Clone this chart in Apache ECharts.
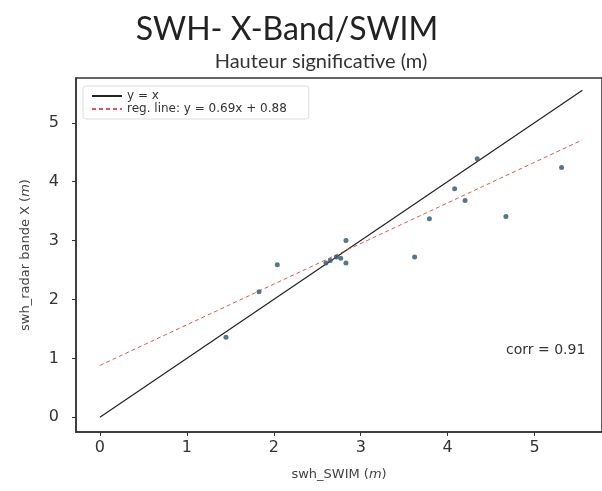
<!DOCTYPE html>
<html><head><meta charset="utf-8">
<script src="https://cdn.jsdelivr.net/npm/echarts@6/dist/echarts.min.js"></script>
<style>html,body{margin:0;padding:0;background:#fff}#c{width:602px;height:491px}</style>
</head><body><div id="c"></div>
<script>
const swimX = [1.45, 1.83, 2.04, 2.60, 2.65, 2.72, 2.77, 2.83, 2.83, 3.62, 3.79, 4.08, 4.20, 4.34, 4.67, 5.31];
const radarY = [1.36, 2.13, 2.59, 2.62, 2.66, 2.72, 2.70, 2.62, 3.00, 2.72, 3.37, 3.88, 3.68, 4.39, 3.41, 4.24];
const lineX = [0, 5.55];
const slope = 0.69, intercept = 0.88;
const xTicks = [0, 1, 2, 3, 4, 5];
const yTicks = [0, 1, 2, 3, 4, 5];

const scatterData = swimX.map((x, i) => [x, radarY[i]]);
const idData = lineX.map(x => [x, x]);
const regData = lineX.map(x => [x, slope * x + intercept]);

const chart = echarts.init(document.getElementById('c'), null, {renderer: 'canvas'});
const axisFont = 'DejaVu Sans, sans-serif';
chart.setOption({
  animation: false,
  backgroundColor: '#fff',
  textStyle: {fontFamily: axisFont},
  title: [
    {text: 'SWH- X-Band/SWIM', left: 282, top: 9, textAlign: 'center',
     textStyle: {fontFamily: 'Lato', fontSize: 32, fontWeight: 'normal', color: '#222'}},
    {text: 'Hauteur significative (m)', left: 316, top: 47, textAlign: 'center',
     textStyle: {fontFamily: 'Lato', fontSize: 20, fontWeight: 'normal', color: '#333'}}
  ],
  grid: {left: 76, top: 78, width: 526, height: 354, show: true, borderColor: '#333', borderWidth: 1.5, backgroundColor: 'transparent'},
  legend: {
    left: 83, top: 86, orient: 'vertical', itemGap: 1, itemWidth: 30, itemHeight: 11,
    padding: [4, 22, 4, 8],
    backgroundColor: '#fff', borderColor: '#ddd', borderWidth: 1, borderRadius: 3,
    itemStyle: {opacity: 0},
    textStyle: {fontFamily: axisFont, fontSize: 12, color: '#333'},
    data: ['y = x', 'reg. line: y = 0.69x + 0.88']
  },
  xAxis: {
    type: 'value', min: -0.275, max: 5.775, interval: 1,
    name: 'swh_SWIM ({i|m})', nameLocation: 'middle', nameGap: 36,
    nameTextStyle: {fontFamily: axisFont, fontSize: 13, color: '#444', rich: {i: {fontFamily: axisFont, fontSize: 13, fontStyle: 'italic', color: '#444'}}},
    axisLine: {show: true, onZero: false, lineStyle: {color: '#333', width: 1.5}},
    axisTick: {show: true, length: 4, inside: false, lineStyle: {color: '#333'}, customValues: xTicks},
    axisLabel: {fontFamily: axisFont, fontSize: 16, color: '#333', margin: 8, customValues: xTicks},
    splitLine: {show: false}
  },
  yAxis: {
    type: 'value', min: -0.25, max: 5.76, interval: 1,
    name: 'swh_radar bande X ({i|m})', nameLocation: 'middle', nameGap: 44,
    nameTextStyle: {fontFamily: axisFont, fontSize: 13, color: '#444', rich: {i: {fontFamily: axisFont, fontSize: 13, fontStyle: 'italic', color: '#444'}}},
    axisLine: {show: true, onZero: false, lineStyle: {color: '#333', width: 1.5}},
    axisTick: {show: true, length: 4, inside: false, lineStyle: {color: '#333'}, customValues: yTicks},
    axisLabel: {fontFamily: axisFont, fontSize: 16, color: '#333', margin: 17, customValues: yTicks},
    splitLine: {show: false}
  },
  series: [
    {name: 'y = x', type: 'line', data: idData, symbol: 'none', silent: true,
     lineStyle: {color: '#222', width: 1.2}, itemStyle: {color: '#222'}, z: 3},
    {name: 'reg. line: y = 0.69x + 0.88', type: 'line', data: regData, symbol: 'none', silent: true,
     lineStyle: {color: '#e0574f', width: 1, type: [4, 3]}, itemStyle: {color: '#e0574f'}, z: 3},
    {name: 'points', type: 'scatter', data: scatterData, symbolSize: 5,
     itemStyle: {color: '#3a5f73', opacity: 0.85}, z: 4}
  ],
  graphic: [
    {type: 'text', left: 506, top: 343,
     style: {text: 'corr = 0.91', fontFamily: axisFont, fontSize: 14, fill: '#333'}}
  ]
});
</script></body></html>
